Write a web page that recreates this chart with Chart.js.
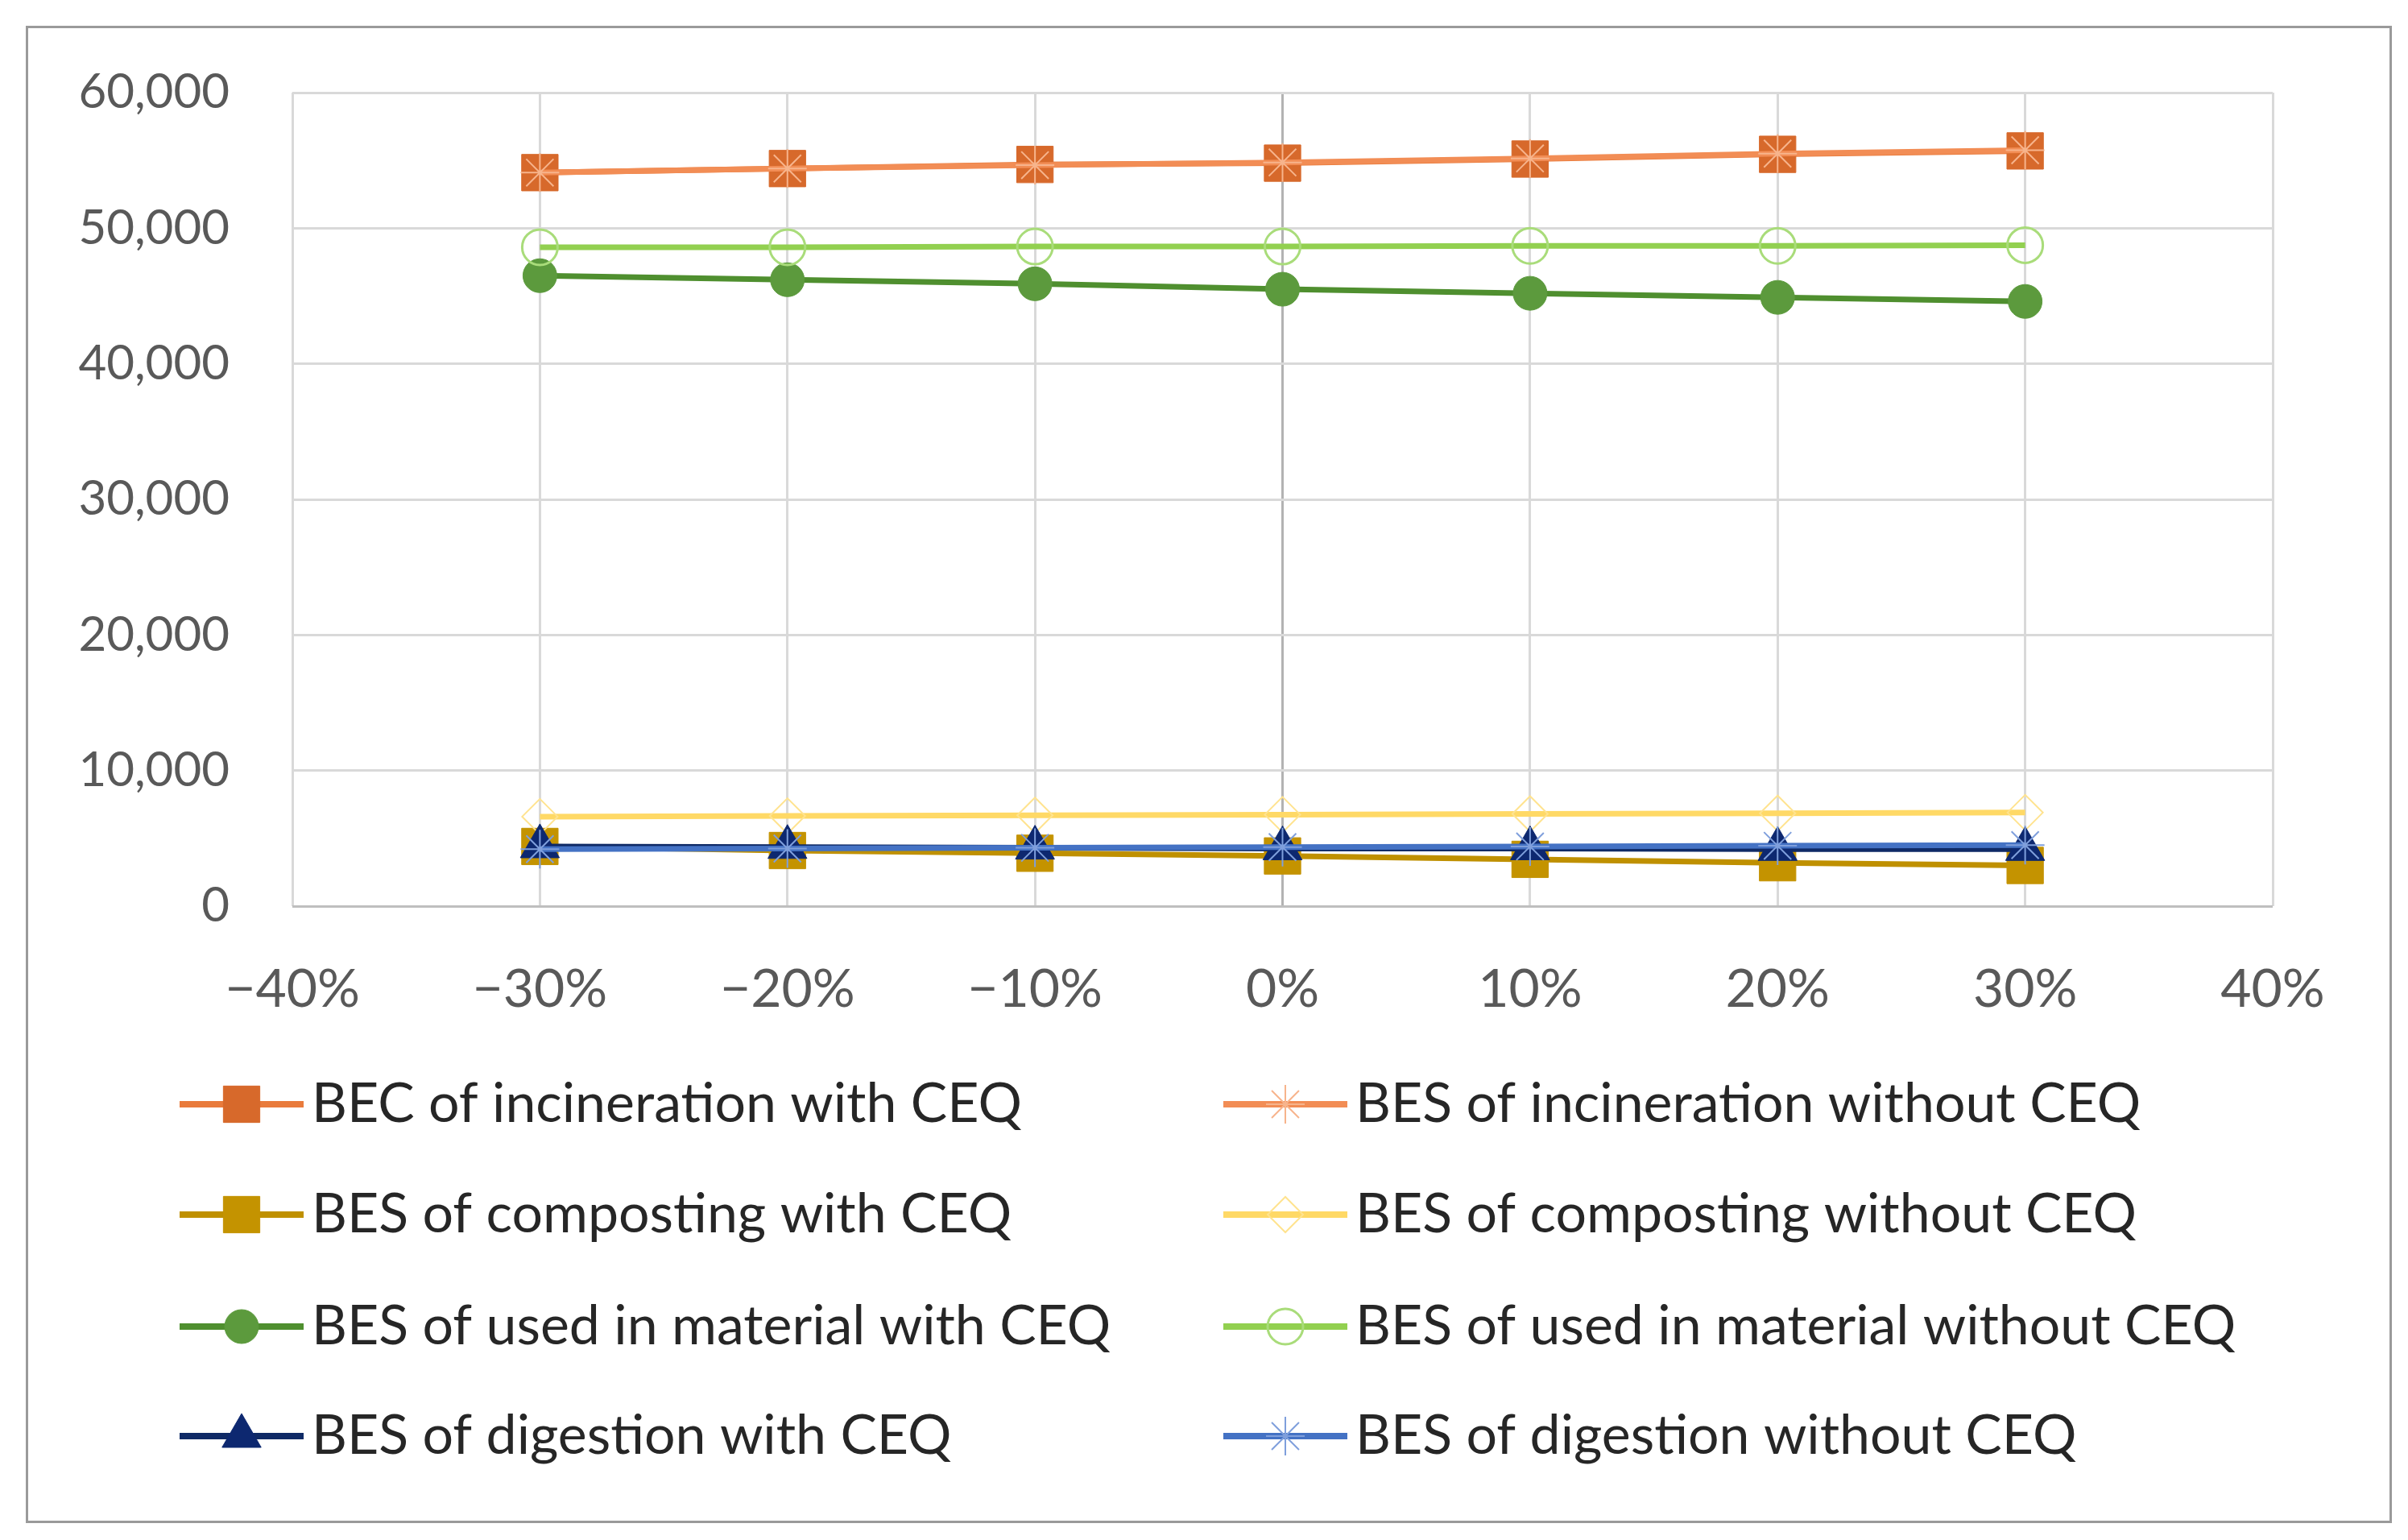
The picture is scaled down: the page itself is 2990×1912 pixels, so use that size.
<!DOCTYPE html>
<html>
<head>
<meta charset="utf-8">
<script src="https://cdn.jsdelivr.net/npm/chart.js@4.4.1/dist/chart.umd.min.js"></script>
<style>
    html, body { margin: 0; padding: 0; background: #ffffff; }
    #frame {
        position: absolute;
        left: 32px; top: 32px;
        width: 2938px; height: 1859px;
        box-sizing: border-box;
        border: 3px solid #9a9a9a;
        background: #ffffff;
    }
</style>
</head>
<body>
<div id="frame"><canvas id="myChart"></canvas></div>
<script>
    // Sensitivity steps on the x axis (fraction of change)
    const xSteps = [-0.3, -0.2, -0.1, 0, 0.1, 0.2, 0.3];
    const xTickLabels = ['\u221240%', '\u221230%', '\u221220%', '\u221210%', '0%', '10%', '20%', '30%', '40%'];
    const yTickLabels = ['0', '10,000', '20,000', '30,000', '40,000', '50,000', '60,000'];

    const seriesNames = [
        'BEC of incineration with CEQ',
        'BES of incineration without CEQ',
        'BES of composting with CEQ',
        'BES of composting without CEQ',
        'BES of used in material with CEQ',
        'BES of used in material without CEQ',
        'BES of digestion with CEQ',
        'BES of digestion without CEQ'
    ];

    // values
    const incinerationWith = [54100, 54400, 54700, 54800, 55100, 55450, 55700];
    const incinerationWithout = [54100, 54400, 54650, 54850, 55150, 55500, 55750];
    const compostingWith = [4400, 4100, 3900, 3700, 3450, 3200, 3000];
    const compostingWithout = [6600, 6650, 6700, 6750, 6800, 6850, 6900];
    const materialWith = [46500, 46200, 45900, 45500, 45200, 44900, 44600];
    const materialWithout = [48600, 48600, 48650, 48650, 48700, 48700, 48750];
    const digestionWith = [4400, 4350, 4300, 4250, 4250, 4200, 4200];
    const digestionWithout = [4200, 4250, 4300, 4350, 4400, 4450, 4500];

    const seriesValues = [
        incinerationWith, incinerationWithout, compostingWith, compostingWithout,
        materialWith, materialWithout, digestionWith, digestionWithout
    ];

    const styles = [
        { line: '#e97b3c', fill: '#d7692b', edge: '#d7692b', point: 'rect', r: 32, bw: 1 },
        { line: '#f28d55', fill: 'rgba(0,0,0,0)', edge: '#f7b48c', point: 'star', r: 24, bw: 2 },
        { line: '#bf9000', fill: '#c49300', edge: '#c49300', point: 'rect', r: 32, bw: 1 },
        { line: '#ffd966', fill: 'rgba(0,0,0,0)', edge: '#ffe38f', point: 'rectRot', r: 22, bw: 2 },
        { line: '#4f8f2f', fill: '#5c9a3d', edge: '#5c9a3d', point: 'circle', r: 21, bw: 1 },
        { line: '#92d050', fill: 'rgba(0,0,0,0)', edge: '#a9dc7a', point: 'circle', r: 22, bw: 3 },
        { line: '#0f2a66', fill: '#0d2870', edge: '#0d2870', point: 'triangle', r: 28, bw: 1 },
        { line: '#4472c4', fill: 'rgba(0,0,0,0)', edge: '#7f9fdc', point: 'star', r: 24, bw: 2 }
    ];

    const FONT = 'Lato';
    const tickColor = '#595959';

    const datasets = seriesNames.map((name, i) => ({
        label: name,
        data: seriesValues[i].map((v, k) => ({ x: xSteps[k], y: v })),
        borderColor: styles[i].line,
        backgroundColor: styles[i].fill,
        borderWidth: 7,
        pointStyle: styles[i].point,
        pointRadius: styles[i].r,
        pointBorderColor: styles[i].edge,
        pointBackgroundColor: styles[i].fill,
        pointBorderWidth: styles[i].bw,
        tension: 0,
        fill: false,
        order: seriesNames.length - i   // later series on top, like Excel
    }));

    // two-column legend under the plot
    const legendGrid = {
        id: 'legendGrid',
        afterDraw(chart) {
            const ctx = chart.ctx;
            const colLine = [188, 1484];
            const rowY = [1336, 1473, 1612, 1748];
            const lineLen = 154;
            ctx.save();
            chart.data.datasets.forEach((ds, i) => {
                const col = i % 2;
                const row = Math.floor(i / 2);
                const x0 = colLine[col];
                const y = rowY[row];
                ctx.strokeStyle = ds.borderColor;
                ctx.lineWidth = 8;
                ctx.beginPath();
                ctx.moveTo(x0, y);
                ctx.lineTo(x0 + lineLen, y);
                ctx.stroke();
                ctx.fillStyle = ds.pointBackgroundColor;
                ctx.strokeStyle = ds.pointBorderColor;
                ctx.lineWidth = ds.pointBorderWidth;
                Chart.helpers.drawPoint(ctx, {
                    pointStyle: ds.pointStyle,
                    radius: ds.pointRadius,
                    rotation: 0,
                    borderWidth: ds.pointBorderWidth
                }, x0 + lineLen / 2, y);
                ctx.fillStyle = '#262626';
                ctx.font = '68px ' + FONT;
                ctx.textBaseline = 'middle';
                ctx.textAlign = 'left';
                ctx.fillText(ds.label, x0 + lineLen + 10, y);
            });
            ctx.restore();
        }
    };

    const ctx = document.getElementById('myChart').getContext('2d');
    new Chart(ctx, {
        type: 'line',
        data: { datasets: datasets },
        plugins: [legendGrid],
        options: {
            animation: false,
            responsive: true,
            maintainAspectRatio: false,
            devicePixelRatio: 1,
            layout: { autoPadding: false, padding: { left: 0, top: 80, right: 145, bottom: 563 } },
            scales: {
                x: {
                    type: 'linear',
                    min: -0.4,
                    max: 0.4,
                    border: { display: false },
                    grid: {
                        drawTicks: false,
                        lineWidth: 3,
                        color: c => (c.tick && Math.abs(c.tick.value) < 1e-9) ? '#b3b3b3' : '#d9d9d9'
                    },
                    ticks: {
                        stepSize: 0.1,
                        autoSkip: false,
                        maxRotation: 0,
                        padding: 64,
                        color: tickColor,
                        font: { family: FONT, size: 66 },
                        callback: (value, index) => xTickLabels[index]
                    },
                    afterFit: scale => { scale.height = 200; }
                },
                y: {
                    min: 0,
                    max: 60000,
                    border: { display: false },
                    grid: {
                        drawTicks: false,
                        lineWidth: 3,
                        color: c => (c.tick && c.tick.value === 0) ? '#bfbfbf' : '#d9d9d9'
                    },
                    ticks: {
                        stepSize: 10000,
                        padding: 78,
                        color: tickColor,
                        font: { family: FONT, size: 60 },
                        callback: (value, index) => yTickLabels[index]
                    },
                    afterFit: scale => {
                        scale.width = 328;
                        // tick padding would otherwise push the plot top down
                        scale.paddingTop = 0;
                        scale.paddingBottom = 0;
                    }
                }
            },
            plugins: {
                legend: { display: false },
                tooltip: { enabled: false }
            }
        }
    });
</script>
</body>
</html>
